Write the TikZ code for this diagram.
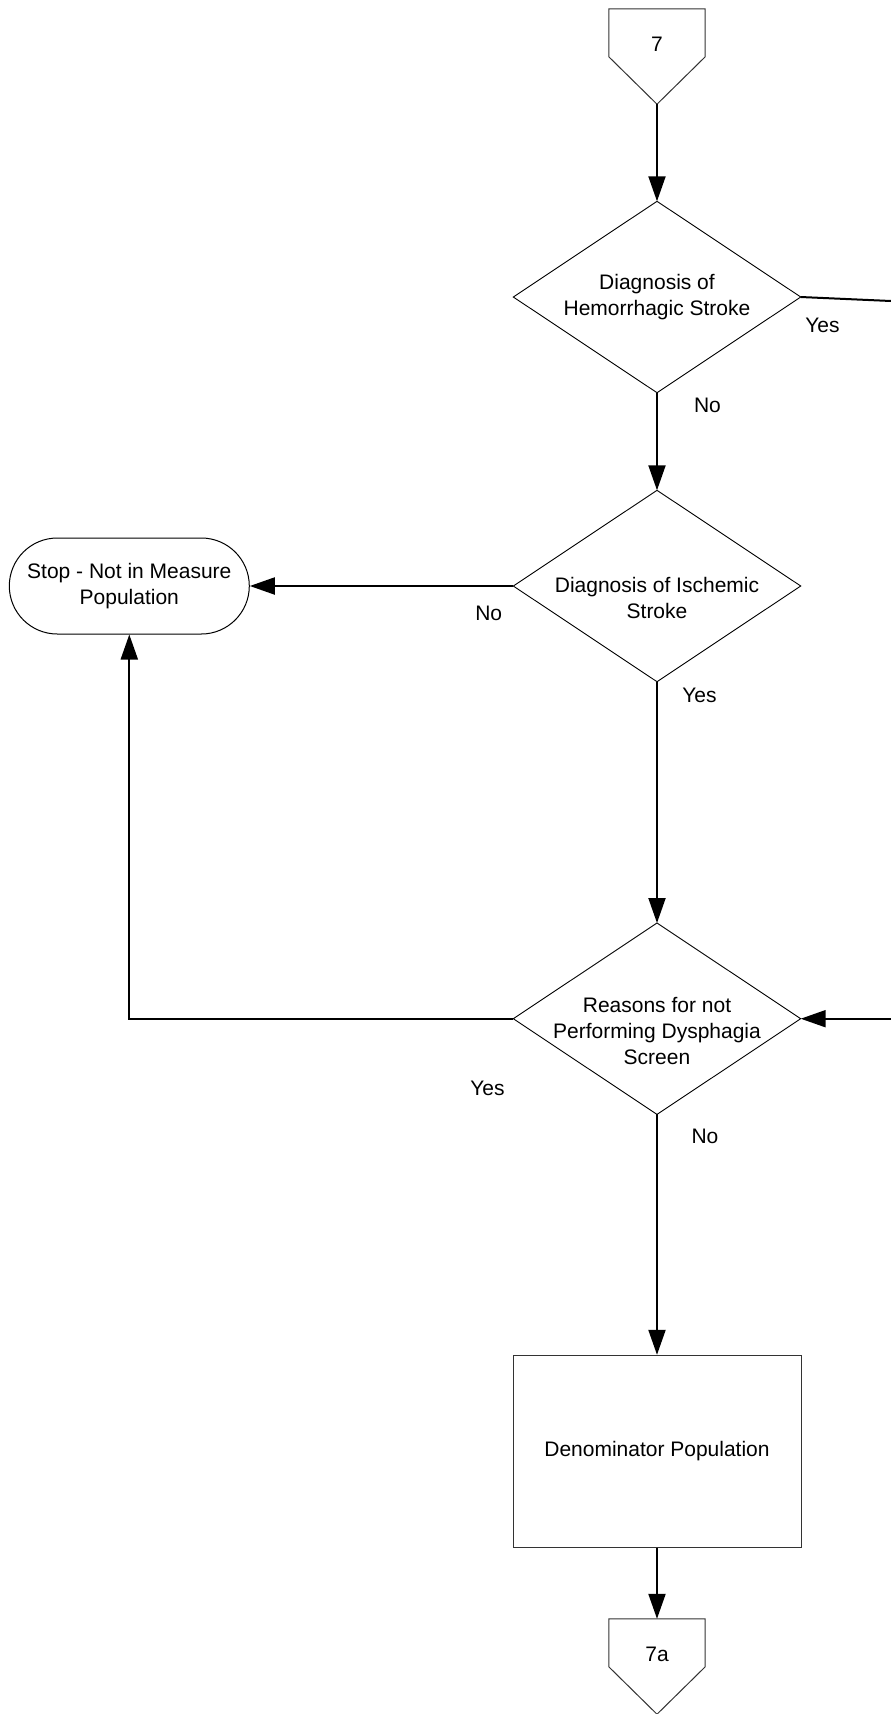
\documentclass[tikz,border=0pt]{standalone}
\usepackage{fontspec}
\setmainfont{Liberation Sans}
\usetikzlibrary{arrows.meta,calc}

\tikzset{
  base/.style={font=\fontsize{21}{25.6}\selectfont},
  outline/.style={draw=black!80, line width=1pt},
  diabox/.style={minimum width=287pt, minimum height=191pt, inner sep=0pt},
  dtext/.style={base, align=center, inner sep=0pt},
  termbox/.style={base, outline, draw=black, rectangle, rounded corners=48pt,
    minimum width=240pt, minimum height=96pt, align=center, inner sep=0pt},
  procbox/.style={base, outline, rectangle, minimum width=288pt,
    minimum height=192pt, align=center, inner sep=0pt},
  pagebox/.style={minimum width=96pt, minimum height=95pt, inner sep=0pt},
  lbl/.style={base, inner sep=0pt, text depth=0pt},
  flow/.style={line width=2pt, -{Triangle[length=25pt,width=17pt]}},
  plain/.style={line width=2pt}
}

\newcommand{\diamondpath}[1]{%
  \draw[line width=0.9pt] (#1.north) -- (#1.east) -- (#1.south) -- (#1.west) -- cycle;}
\newcommand{\offpagepath}[1]{%
  \draw[outline] (#1.north west) -- (#1.north east) -- ($(#1.north east)+(0,48)$)
    -- (#1.south) -- ($(#1.north west)+(0,48)$) -- cycle;}

\begin{document}
\begin{tikzpicture}[x=1pt,y=-1pt]
  \useasboundingbox (0,0) rectangle (891,1714);
  \fill[white] (0,0) rectangle (891,1714);

  % off-page connector at the top
  \node[pagebox] (c7) at (657,56.5) {};
  \offpagepath{c7}
  \node[lbl] (c7t) at (657,44) {7};

  % decision: hemorrhagic stroke
  \node[diabox] (d1) at (657,297) {};
  \diamondpath{d1}
  \node[dtext] (d1t) at (657,297) {Diagnosis of\\Hemorrhagic Stroke};

  % decision: ischemic stroke
  \node[diabox] (d2) at (657,586) {};
  \diamondpath{d2}
  \node[dtext] (d2t) at (657,598) {Diagnosis of Ischemic\\Stroke};

  % terminator
  \node[termbox] (stop) at (129.3,586) {Stop - Not in Measure\\Population};

  % decision: reasons for not screening
  \node[diabox] (d3) at (657,1018.7) {};
  \diamondpath{d3}
  \node[dtext] (d3t) at (657,1031) {Reasons for not\\Performing Dysphagia\\Screen};

  % process box
  \node[procbox] (den) at (657,1451.3) {Denominator Population};

  % off-page connector at the bottom
  \node[pagebox, minimum height=95pt] (c7a) at (657,1666.5) {};
  \offpagepath{c7a}
  \node[lbl] (c7at) at (657,1654) {7a};

  % free line ends at the right margin
  \coordinate (yesout) at (891,301);
  \coordinate (rightin) at (891,1018.7);
  \coordinate (corner) at (129.3,1018.7);

  % connectors
  \draw[flow] (c7.south) -- (d1.north);
  \draw[plain] (d1.east) -- (yesout);
  \draw[flow] (d1.south) -- (d2.north);
  \draw[flow] (d2.west) -- (stop.east);
  \draw[flow] (d2.south) -- (d3.north);
  \draw[flow] (d3.west) -- (corner) -- (stop.south);
  \draw[flow] (rightin) -- (d3.east);
  \draw[flow] (d3.south) -- (den.north);
  \draw[flow] (den.south) -- (c7a.north);

  % branch labels
  \node[lbl] (l1) at (822.5,325.5) {Yes};
  \node[lbl] (l2) at (707.5,405.7) {No};
  \node[lbl] (l3) at (488.7,613.3) {No};
  \node[lbl] (l4) at (699.5,695) {Yes};
  \node[lbl] (l5) at (487.5,1088) {Yes};
  \node[lbl] (l6) at (705,1136) {No};
\end{tikzpicture}
\end{document}
